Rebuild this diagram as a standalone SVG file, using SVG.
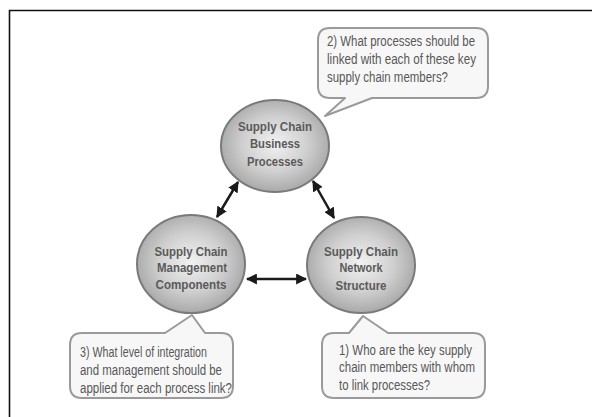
<svg xmlns="http://www.w3.org/2000/svg" width="592" height="417" viewBox="0 0 592 417">
<defs>
<radialGradient id="ball" cx="50%" cy="48%" r="55%">
<stop offset="0" stop-color="#f2f2f2"/>
<stop offset="0.55" stop-color="#cfcfcf"/>
<stop offset="1" stop-color="#a4a4a4"/>
</radialGradient>
<marker id="ah" viewBox="0 0 10 10" refX="9" refY="5" markerWidth="4.4" markerHeight="4.4" orient="auto-start-reverse" markerUnits="strokeWidth">
<path d="M0,0 L10,5 L0,10 Z" fill="#1a1a1a"/>
</marker>
</defs>
<style>
.ball{fill:url(#ball);stroke:#7a7a7a;stroke-width:2}
.nt{font-family:"Liberation Sans",Arial,sans-serif;font-size:12.5px;font-weight:bold;fill:#5a5a5a;text-anchor:middle}
.co{fill:#f7f7f7;stroke:#9a9a9a;stroke-width:2;stroke-linejoin:round}
.ct{font-family:"Liberation Sans",Arial,sans-serif;font-size:14px;fill:#585858}
.cn{stroke:#1a1a1a;stroke-width:2.5;fill:none;marker-start:url(#ah);marker-end:url(#ah)}
</style>
<rect width="592" height="417" fill="#ffffff"/>
<path d="M9.5,417 V10.5 H592" fill="none" stroke="#111" stroke-width="1.6"/>

<g id="connectors">
<line class="cn" x1="238" y1="182" x2="217" y2="217"/>
<line class="cn" x1="313" y1="181" x2="334" y2="218"/>
<line class="cn" x1="247" y1="279" x2="306" y2="279"/>
</g>

<g id="callout-2">
<path class="co" d="M330,28 H476 Q488,28 488,40 V86 Q488,98 476,98 H372 L325,116 L345,98 H330 Q318,98 318,86 V40 Q318,28 330,28 Z"/>
<text class="ct" x="327" y="46" textLength="148" lengthAdjust="spacingAndGlyphs">2) What processes should be</text>
<text class="ct" x="327" y="64" textLength="149" lengthAdjust="spacingAndGlyphs">linked with each of these key</text>
<text class="ct" x="327" y="82" textLength="121" lengthAdjust="spacingAndGlyphs">supply chain members?</text>
</g>

<g id="node-business">
<ellipse class="ball" cx="275" cy="146" rx="54" ry="46"/>
<text class="nt" x="275" y="131" textLength="74" lengthAdjust="spacingAndGlyphs">Supply Chain</text>
<text class="nt" x="275" y="148" textLength="50" lengthAdjust="spacingAndGlyphs">Business</text>
<text class="nt" x="275" y="166" textLength="56" lengthAdjust="spacingAndGlyphs">Processes</text>
</g>

<g id="node-management">
<ellipse class="ball" cx="191" cy="264" rx="54" ry="49"/>
<text class="nt" x="191" y="256" textLength="73" lengthAdjust="spacingAndGlyphs">Supply Chain</text>
<text class="nt" x="192" y="272" textLength="70" lengthAdjust="spacingAndGlyphs">Management</text>
<text class="nt" x="191" y="289" textLength="71" lengthAdjust="spacingAndGlyphs">Components</text>
</g>

<g id="node-network">
<ellipse class="ball" cx="361" cy="265" rx="54" ry="48"/>
<text class="nt" x="361" y="256" textLength="74" lengthAdjust="spacingAndGlyphs">Supply Chain</text>
<text class="nt" x="361" y="272" textLength="43" lengthAdjust="spacingAndGlyphs">Network</text>
<text class="nt" x="361" y="290" textLength="51" lengthAdjust="spacingAndGlyphs">Structure</text>
</g>

<g id="callout-3">
<path class="co" d="M82,333 H165 L192,315 L205,333 H221 Q233,333 233,345 V386 Q233,398 221,398 H82 Q70,398 70,386 V345 Q70,333 82,333 Z"/>
<text class="ct" x="80" y="357" textLength="127" lengthAdjust="spacingAndGlyphs">3) What level of integration</text>
<text class="ct" x="80" y="375" textLength="142" lengthAdjust="spacingAndGlyphs">and management should be</text>
<text class="ct" x="80" y="393" textLength="152" lengthAdjust="spacingAndGlyphs">applied for each process link?</text>
</g>

<g id="callout-1">
<path class="co" d="M334,333 H349 L363,316 L388,333 H473 Q485,333 485,345 V386 Q485,398 473,398 H334 Q322,398 322,386 V345 Q322,333 334,333 Z"/>
<text class="ct" x="339" y="355" textLength="133" lengthAdjust="spacingAndGlyphs">1) Who are the key supply</text>
<text class="ct" x="339" y="372" textLength="136" lengthAdjust="spacingAndGlyphs">chain members with whom</text>
<text class="ct" x="339" y="390" textLength="91" lengthAdjust="spacingAndGlyphs">to link processes?</text>
</g>
</svg>
